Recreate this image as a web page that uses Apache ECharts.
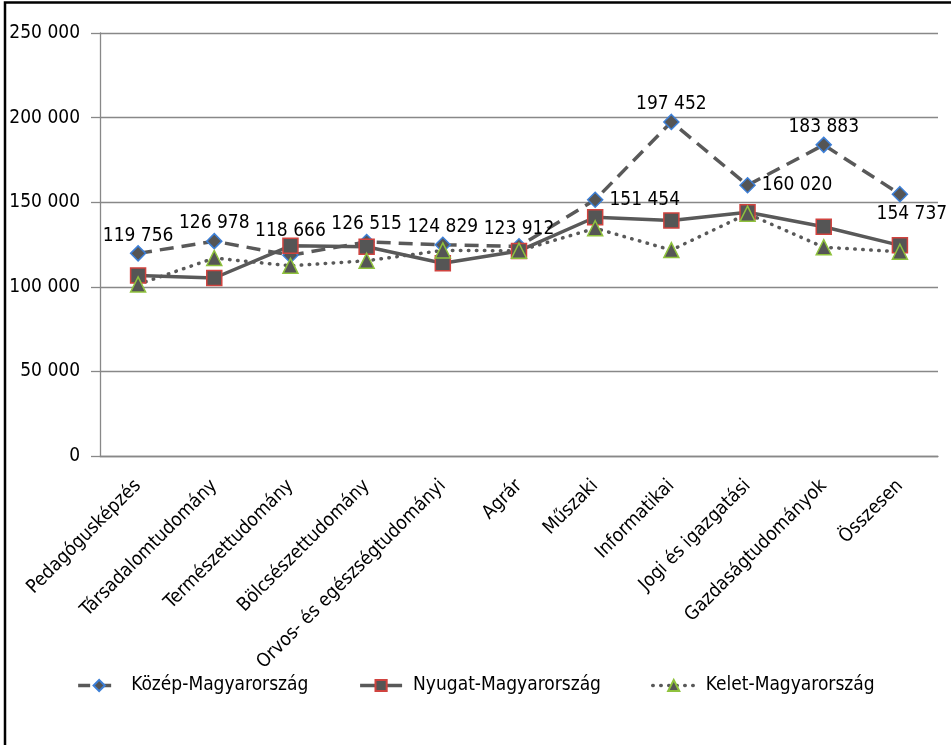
<!DOCTYPE html>
<html>
<head>
<meta charset="utf-8">
<script src="https://cdn.jsdelivr.net/npm/echarts@6/dist/echarts.min.js"></script>
<style>
html,body{margin:0;padding:0;background:#fff;}
#chart{width:951px;height:745px;}
</style>
</head>
<body>
<div id="chart"></div>
<script>
const categories = ['Pedagógusképzés','Társadalomtudomány','Természettudomány','Bölcsészettudomány','Orvos- és egészségtudományi','Agrár','Műszaki','Informatikai','Jogi és igazgatási','Gazdaságtudományok','Összesen'];
const seriesNames = ['Közép-Magyarország','Nyugat-Magyarország','Kelet-Magyarország'];
const kozep = [119756,126978,118666,126515,124829,123912,151454,197452,160020,183883,154737];
const nyugat = [106700,105200,124200,123700,113900,121200,141100,139200,144100,135500,124500];
const kelet = [101400,117000,112400,115400,121500,121300,134600,121700,143200,123400,120700];
const yMin = 0, yMax = 250000, yStep = 50000;

const kozepLabelPos = ['top','top','top','top','top','top','right','top','right','top','bottom'];
const FONT = "'Liberation Sans Narrow', 'DejaVu Sans Condensed', 'Liberation Sans', sans-serif";
const fmt = v => String(v).replace(/\B(?=(\d{3})+(?!\d))/g, '\u00a0');

const DASH = [14,8], DOT = [0.5,7.5];
const chart = echarts.init(document.getElementById('chart'), null, {renderer:'canvas'});
const kozepData = kozep.map((v,i) => ({
  value: v,
  label: {position: kozepLabelPos[i],
          distance: kozepLabelPos[i]==='top' ? (i===2 ? 6 : 0) : (kozepLabelPos[i]==='bottom' ? 2 : 6),
          offset: i===10 ? [12,0] : [0,0]}
}));
chart.setOption({
  backgroundColor:'#fff',
  animation:false,
  textStyle:{fontFamily:FONT},
  graphic:[{type:'rect', shape:{x:5,y:2.5,width:1200,height:1200}, style:{fill:'none', stroke:'#000', lineWidth:2.5}, silent:true, z:100}],
  grid:{left:100,right:13,top:33,bottom:289,containLabel:false},
  legend:{
    data:[
      {name:seriesNames[0], lineStyle:{type:[12,9], width:3.5, color:'#595959'}},
      {name:seriesNames[1], lineStyle:{type:'solid', width:3.5, color:'#595959'}},
      {name:seriesNames[2], lineStyle:{type:DOT, width:3.5, cap:'round', color:'#595959'}}
    ],
    left:'center', top:671, itemWidth:42, itemHeight:14, itemGap:50,
    textStyle:{fontFamily:FONT,fontSize:19,color:'#000', padding:[0,0,0,6]}
  },
  xAxis:{
    type:'category', data:categories, boundaryGap:true,
    axisLine:{lineStyle:{color:'#888',width:1.3}},
    axisTick:{show:false},
    axisLabel:{rotate:45, interval:0, margin:27, fontFamily:FONT, fontSize:19, color:'#000'}
  },
  yAxis:{
    type:'value', min:yMin, max:yMax, interval:yStep,
    axisLine:{show:true, lineStyle:{color:'#888',width:1.3}},
    axisTick:{show:true, length:9, lineStyle:{color:'#888',width:1.3}},
    splitLine:{lineStyle:{color:'#888',width:1.3}},
    axisLabel:{margin:20, fontFamily:FONT, fontSize:19, color:'#000', formatter:v=>fmt(v)}
  },
  series:[
    {name:seriesNames[0], type:'line', data:kozepData,
     symbol:'diamond', symbolSize:[15,15],
     lineStyle:{color:'#595959', width:3.5, type:DASH},
     itemStyle:{color:'#555', borderColor:'#3d7fd6', borderWidth:1.5},
     label:{show:true, fontFamily:FONT, fontSize:19, color:'#000', formatter:p=>fmt(p.value)}
    },
    {name:seriesNames[1], type:'line', data:nyugat,
     symbol:'rect', symbolSize:[15,15],
     lineStyle:{color:'#595959', width:3.5},
     itemStyle:{color:'#555', borderColor:'#d0433f', borderWidth:1.5}
    },
    {name:seriesNames[2], type:'line', data:kelet,
     symbol:'triangle', symbolSize:[15,15],
     lineStyle:{color:'#595959', width:3.5, type:DOT, cap:'round'},
     itemStyle:{color:'#555', borderColor:'#8fc23d', borderWidth:1.5}
    }
  ]
});
</script>
</body>
</html>
